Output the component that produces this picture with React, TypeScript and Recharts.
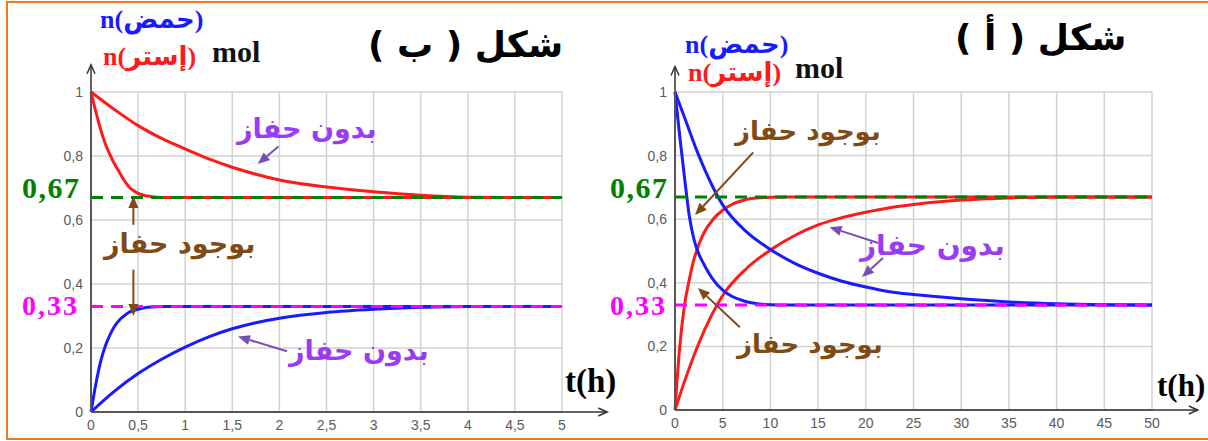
import { LineChart, Line, XAxis, YAxis, CartesianGrid, ReferenceLine } from 'recharts';

// figure (ب) : t in hours 0..5
const esterCatB = [[0, 1], [0.05, 0.94], [0.1, 0.885], [0.15, 0.84], [0.2, 0.805], [0.25, 0.775], [0.3, 0.75], [0.35, 0.725], [0.4, 0.705], [0.45, 0.692], [0.5, 0.683], [0.6, 0.675], [0.7, 0.671], [0.8, 0.67], [1, 0.67], [5, 0.67]];
const esterNoCatB = [[0, 1], [0.25, 0.945], [0.5, 0.895], [0.75, 0.855], [1, 0.822], [1.25, 0.791], [1.5, 0.765], [1.75, 0.743], [2, 0.725], [2.5, 0.703], [3, 0.688], [3.5, 0.677], [4, 0.671], [4.5, 0.67], [5, 0.67]];
const acidCatB = [[0, 0], [0.05, 0.085], [0.1, 0.155], [0.15, 0.205], [0.2, 0.24], [0.25, 0.268], [0.3, 0.287], [0.35, 0.3], [0.4, 0.311], [0.5, 0.321], [0.6, 0.327], [0.8, 0.33], [1, 0.33], [5, 0.33]];
const acidNoCatB = [[0, 0], [0.25, 0.065], [0.5, 0.12], [0.75, 0.165], [1, 0.203], [1.25, 0.235], [1.5, 0.26], [1.75, 0.279], [2, 0.293], [2.5, 0.311], [3, 0.321], [3.5, 0.327], [4, 0.33], [5, 0.33]];
const ticksB = [0, 0.5, 1, 1.5, 2, 2.5, 3, 3.5, 4, 4.5, 5];

// figure (أ) : t in hours 0..50
const acidCatA = [[0, 1], [0.5, 0.86], [1, 0.73], [1.5, 0.61], [2, 0.535], [2.5, 0.49], [3, 0.46], [4, 0.41], [5, 0.377], [6, 0.357], [7, 0.345], [8, 0.337], [10, 0.331], [12, 0.33], [50, 0.33]];
const esterCatA = [[0, 0], [0.5, 0.2], [1, 0.33], [1.5, 0.41], [2, 0.475], [2.5, 0.52], [3, 0.555], [4, 0.6], [5, 0.628], [6, 0.647], [7, 0.658], [8, 0.665], [10, 0.669], [12, 0.67], [50, 0.67]];
const acidNoCatA = [[0, 1], [1, 0.92], [2.5, 0.8], [5, 0.645], [7.5, 0.56], [10, 0.505], [12.5, 0.462], [15, 0.43], [17.5, 0.405], [20, 0.387], [22.5, 0.372], [25, 0.363], [30, 0.35], [35, 0.34], [40, 0.334], [45, 0.331], [50, 0.33]];
const esterNoCatA = [[0, 0], [1, 0.09], [2.5, 0.21], [5, 0.36], [7.5, 0.445], [10, 0.503], [12.5, 0.548], [15, 0.582], [17.5, 0.605], [20, 0.622], [22.5, 0.636], [25, 0.646], [30, 0.66], [35, 0.667], [40, 0.67], [50, 0.67]];
const ticksA = [0, 5, 10, 15, 20, 25, 30, 35, 40, 45, 50];

const yTicks = [0, 0.2, 0.4, 0.6, 0.8, 1];
const esterLimit = 0.67;
const acidLimit = 0.33;

const toPts = (a: number[][]) => a.map(([t, v]) => ({ t, v }));
const comma = (v: number) => String(v).replace('.', ',');

const RED = '#ff1a1a';
const BLUE = '#1a1aff';
const GREEN = '#008000';
const MAGENTA = '#ff00ff';
const BROWN = '#7f4a14';
const PURPLE = '#9a3cf5';
const PURPLE_ARROW = '#7a4cb8';
const AR_FONT = "'DejaVu Sans', sans-serif";
const SERIF = "'Liberation Serif', 'DejaVu Sans', serif";

const Arrow = (props: any) => {
  const { x1, y1, x2, y2, stroke, open } = props;
  const a = Math.atan2(y2 - y1, x2 - x1);
  const L = open ? 9 : 12;
  const W = open ? 4 : 5;
  const bx = x2 - L * Math.cos(a);
  const by = y2 - L * Math.sin(a);
  const px = W * Math.sin(a);
  const py = W * Math.cos(a);
  if (open) {
    return (
      <g>
        <line x1={x1} y1={y1} x2={x2} y2={y2} stroke={stroke} strokeWidth={1.5} />
        <polyline points={`${bx - px},${by + py} ${x2},${y2} ${bx + px},${by - py}`} fill="none" stroke={stroke} strokeWidth={1.5} />
      </g>
    );
  }
  return (
    <g>
      <line x1={x1} y1={y1} x2={bx} y2={by} stroke={stroke} strokeWidth={2} />
      <polygon points={`${x2},${y2} ${bx - px},${by + py} ${bx + px},${by - py}`} fill={stroke} />
    </g>
  );
};

const Txt = ({ x, y, size, color, font, dir, spacing, children }: any) => (
  <div
    dir={dir}
    style={{
      position: 'absolute', left: x, top: y, fontSize: size, color, fontFamily: font,
      fontWeight: 'bold', whiteSpace: 'nowrap', lineHeight: 1, letterSpacing: spacing,
    }}
  >
    {children}
  </div>
);

function Panel({ width, right, yWidth, bottom, xMax, ticks, series, arrows, axisEnd }: any) {
  const limitData = (lvl: number) => [{ t: 0, v: lvl }, { t: xMax, v: lvl }];
  return (
    <LineChart width={width} height={441} margin={{ top: 92, right, bottom, left: 0 }}>
      <CartesianGrid stroke="#d2d2d2" strokeWidth={1.5} />
      <XAxis
        type="number" dataKey="t" domain={[0, xMax]} ticks={ticks} tickFormatter={comma}
        tickLine={false} axisLine={{ stroke: '#555', strokeWidth: 2 }} height={25}
        tick={{ fill: '#5a5a5a', fontSize: 14, fontFamily: "'Liberation Sans', Arial" }} interval={0}
      />
      <YAxis
        type="number" dataKey="v" domain={[0, 1]} ticks={yTicks} tickFormatter={comma}
        tickLine={false} axisLine={{ stroke: '#555', strokeWidth: 2 }} width={yWidth}
        tick={{ fill: '#5a5a5a', fontSize: 14, fontFamily: "'Liberation Sans', Arial" }}
      />
      {series.map((s: any, i: number) => (
        <Line key={i} data={toPts(s.data)} dataKey="v" stroke={s.color} strokeWidth={3} dot={false} type="monotone" isAnimationActive={false} />
      ))}
      <Line data={limitData(esterLimit)} dataKey="v" stroke={GREEN} strokeWidth={3} strokeDasharray="12 8" dot={false} isAnimationActive={false} />
      <Line data={limitData(acidLimit)} dataKey="v" stroke={MAGENTA} strokeWidth={3} strokeDasharray="12 8" dot={false} isAnimationActive={false} />
      <ReferenceLine segment={[{ x: 0, y: 0 }, { x: axisEnd[0], y: 0 }]} ifOverflow="visible" stroke="#333" shape={(p: any) => <Arrow {...p} open />} />
      <ReferenceLine segment={[{ x: 0, y: 0 }, { x: 0, y: axisEnd[1] }]} ifOverflow="visible" stroke="#333" shape={(p: any) => <Arrow {...p} open />} />
      {arrows.map((a: any, i: number) => (
        <ReferenceLine key={'a' + i} segment={[{ x: a[0], y: a[1] }, { x: a[2], y: a[3] }]} ifOverflow="visible" stroke={a[4]} shape={(p: any) => <Arrow {...p} />} />
      ))}
    </LineChart>
  );
}

export default function App() {
  return (
    <div style={{ position: 'absolute', left: 0, top: 0, width: 1208, height: 441, background: '#fff', overflow: 'hidden' }}>
      <div style={{ position: 'absolute', left: 6, top: 1, width: 1210, height: 435, borderTop: '2px solid #f07a1e', borderLeft: '2px solid #f07a1e', borderBottom: '2px solid #f07a1e' }} />
      <div style={{ position: 'absolute', left: 0, top: 0 }}>
        <Panel
          width={620} right={58} yWidth={91} bottom={4} xMax={5} ticks={ticksB} axisEnd={[5.48, 1.085]}
          series={[
            { data: esterNoCatB, color: RED },
            { data: esterCatB, color: RED },
            { data: acidNoCatB, color: BLUE },
            { data: acidCatB, color: BLUE },
          ]}
          arrows={[
            [1.99, 0.83, 1.77, 0.775, PURPLE_ARROW],
            [0.45, 0.585, 0.45, 0.675, BROWN],
            [0.45, 0.445, 0.45, 0.3, BROWN],
            [2.08, 0.19, 1.56, 0.236, PURPLE_ARROW],
          ]}
        />
      </div>
      <div style={{ position: 'absolute', left: 600, top: 0 }}>
        <Panel
          width={608} right={56} yWidth={75} bottom={6} xMax={50} ticks={ticksA} axisEnd={[54.8, 1.08]}
          series={[
            { data: esterNoCatA, color: RED },
            { data: esterCatA, color: RED },
            { data: acidNoCatA, color: BLUE },
            { data: acidCatA, color: BLUE },
          ]}
          arrows={[
            [8.2, 0.81, 2.1, 0.613, BROWN],
            [21.3, 0.525, 16.2, 0.575, PURPLE_ARROW],
            [21.8, 0.478, 19.6, 0.418, PURPLE_ARROW],
            [6.8, 0.26, 2.4, 0.384, BROWN],
          ]}
        />
      </div>

      {/* figure (ب) texts */}
      <Txt x={100} y={7} size={26} color={BLUE} font={SERIF}>n(حمض)</Txt>
      <Txt x={103} y={44} size={26} color={RED} font={SERIF}>n(إستر)</Txt>
      <Txt x={212} y={37} size={30} color="#111" font={SERIF}>mol</Txt>
      <Txt x={368} y={27} size={36} color="#000" font={AR_FONT} dir="rtl">شكل ( ب )</Txt>
      <Txt x={22} y={173} size={30} color={GREEN} font={SERIF} spacing={1.5}>0,67</Txt>
      <Txt x={22} y={292} size={28} color={MAGENTA} font={SERIF} spacing={2}>0,33</Txt>
      <Txt x={237} y={115} size={27} color={PURPLE} font={AR_FONT} dir="rtl">بدون حفاز</Txt>
      <Txt x={104} y={230} size={27} color={BROWN} font={AR_FONT} dir="rtl">بوجود حفاز</Txt>
      <Txt x={289} y={337} size={27} color={PURPLE} font={AR_FONT} dir="rtl">بدون حفاز</Txt>
      <Txt x={565} y={365} size={33} color="#000" font={SERIF}>t(h)</Txt>

      {/* figure (أ) texts */}
      <Txt x={685} y={32} size={26} color={BLUE} font={SERIF}>n(حمض)</Txt>
      <Txt x={688} y={60} size={26} color={RED} font={SERIF}>n(إستر)</Txt>
      <Txt x={795} y={53} size={30} color="#111" font={SERIF}>mol</Txt>
      <Txt x={955} y={20} size={36} color="#000" font={AR_FONT} dir="rtl">شكل ( أ )</Txt>
      <Txt x={610} y={173} size={30} color={GREEN} font={SERIF} spacing={1.5}>0,67</Txt>
      <Txt x={610} y={292} size={28} color={MAGENTA} font={SERIF} spacing={2}>0,33</Txt>
      <Txt x={735} y={118} size={26} color={BROWN} font={AR_FONT} dir="rtl">بوجود حفاز</Txt>
      <Txt x={860} y={232} size={28} color={PURPLE} font={AR_FONT} dir="rtl">بدون حفاز</Txt>
      <Txt x={737} y={331} size={26} color={BROWN} font={AR_FONT} dir="rtl">بوجود حفاز</Txt>
      <Txt x={1157} y={370} size={31} color="#000" font={SERIF}>t(h)</Txt>
    </div>
  );
}
